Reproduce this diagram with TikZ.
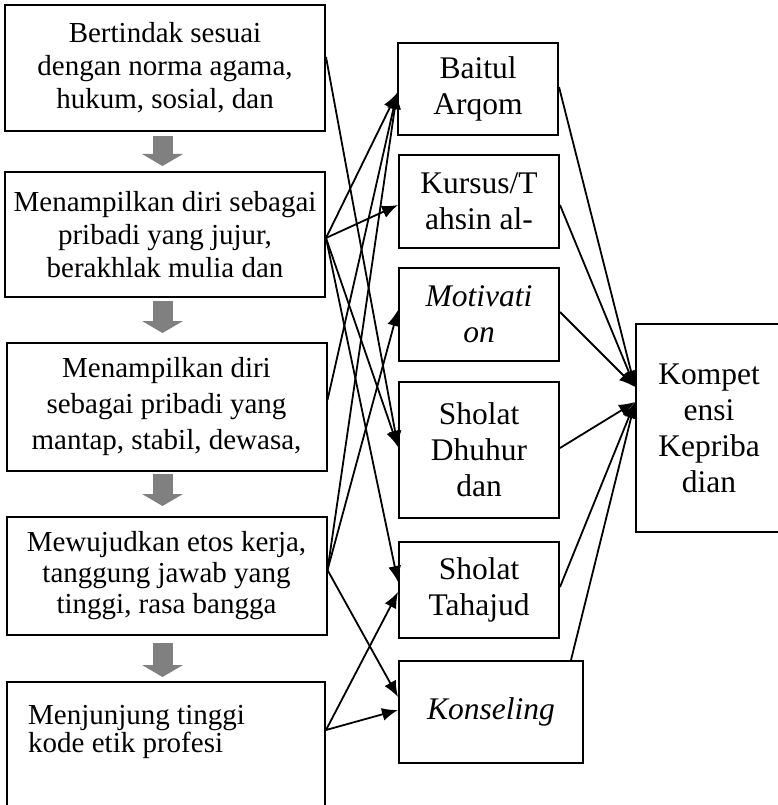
\documentclass[tikz,border=0pt]{standalone}
\usepackage{fontspec}
\setmainfont{Liberation Serif}
\usetikzlibrary{arrows.meta}
\definecolor{arrowgray}{RGB}{128,128,128}
\begin{document}
\begin{tikzpicture}[x=1pt,y=-1pt,
  tbox/.style={draw, line width=2pt, inner sep=0pt, align=center},
  lbox/.style={tbox, minimum width=320pt, font=\fontsize{29}{33}\selectfont},
  mbox/.style={tbox, minimum width=160pt, font=\fontsize{31.5}{36}\selectfont},
  conn/.style={line width=1.8pt, -{Latex[length=16pt,width=13pt]}},
  garrow/.style={line width=20pt, draw=arrowgray, -{Triangle[length=12pt,width=41pt,line width=0pt]}}]
\useasboundingbox (0,0) rectangle (778,805);
% left column
\node[lbox, minimum height=126pt] (b1) at (165,68) {Bertindak sesuai\\dengan norma agama,\\hukum, sosial, dan};
\node[lbox, minimum height=125pt] (b2) at (165,234.5) {Menampilkan diri sebagai\\pribadi yang jujur,\\berakhlak mulia dan};
\node[lbox, minimum height=128pt, font=\fontsize{29}{36}\selectfont] (b3) at (166.5,407) {Menampilkan diri\\sebagai pribadi yang\\mantap, stabil, dewasa,};
\node[lbox, minimum height=118pt, font=\fontsize{29}{31}\selectfont] (b4) at (166.5,576) {Mewujudkan etos kerja,\\tanggung jawab yang\\tinggi, rasa bangga};
\node[lbox, minimum width=318pt, minimum height=148pt] (b5) at (166,756) {};
\node[anchor=north west, inner sep=0pt, align=left, font=\fontsize{29}{28}\selectfont] (b5t) at (28,705) {Menjunjung tinggi\\kode etik profesi};
% middle column
\node[mbox, minimum height=92pt] (m1) at (478,89) {Baitul\\Arqom};
\node[mbox, minimum height=93pt] (m2) at (479,201.5) {Kursus/T\\ahsin al-};
\node[mbox, minimum height=93pt] (m3) at (479,314.5) {\textit{Motivati}\\\textit{on}};
\node[mbox, minimum height=136pt] (m4) at (479,450) {Sholat\\Dhuhur\\dan};
\node[mbox, minimum height=96pt] (m5) at (479,590) {Sholat\\Tahajud};
\node[mbox, minimum width=184pt, minimum height=102pt] (m6) at (491,712) {\textit{Konseling}};
% right
\node[mbox, minimum width=146pt, minimum height=208pt] (k) at (709,428) {Kompet\\ensi\\Kepriba\\dian};
% gray arrows
\draw[garrow] ([xshift=-2.5pt,yshift=-4pt]b1.south) -- ([xshift=-2.5pt,yshift=5pt]b2.north);
\draw[garrow] ([xshift=-2.5pt,yshift=-3pt]b2.south) -- ([xshift=-4pt,yshift=9pt]b3.north);
\draw[garrow] ([xshift=-4pt,yshift=-2pt]b3.south) -- ([xshift=-4pt,yshift=10pt]b4.north);
\draw[garrow] ([xshift=-4pt,yshift=-7pt]b4.south) -- ([xshift=-3.5pt,yshift=4pt]b5.north);
% connectors left -> middle
\draw[conn] ([yshift=11pt]b1.east) -- ([yshift=3pt]m4.west);
\draw[conn] ([yshift=-3.5pt]b2.east) -- ([yshift=-4pt]m1.west);
\draw[conn] ([yshift=-3.5pt]b2.east) -- ([yshift=-3.5pt]m2.west);
\draw[conn] ([yshift=-3.5pt]b2.east) -- ([yshift=3pt]m4.west);
\draw[conn] ([yshift=-3.5pt]b2.east) -- ([yshift=8pt]m5.west);
\draw[conn] ([yshift=7pt]b3.east) -- ([yshift=-4pt]m1.west);
\draw[conn] ([yshift=6pt]b4.east) -- ([yshift=-4pt]m1.west);
\draw[conn] ([yshift=6pt]b4.east) -- ([yshift=4.5pt]m3.west);
\draw[conn] ([yshift=6pt]b4.east) -- ([yshift=15pt]m6.west);
\draw[conn] ([yshift=26pt]b5.east) -- ([yshift=-2pt]m5.west);
\draw[conn] ([yshift=26pt]b5.east) -- ([yshift=2pt]m6.west);
% connectors middle -> right
\draw[conn] ([yshift=2pt]m1.east) -- ([yshift=41pt]k.west);
\draw[conn] ([yshift=-3.5pt]m2.east) -- ([yshift=41pt]k.west);
\draw[conn] ([yshift=2.5pt]m3.east) -- ([yshift=41pt]k.west);
\draw[conn] ([yshift=2pt]m4.east) -- ([yshift=26pt]k.west);
\draw[conn] ([yshift=3pt]m5.east) -- ([yshift=26pt]k.west);
\draw[conn] ([xshift=80pt]m6.north) -- ([yshift=26pt]k.west);
\end{tikzpicture}
\end{document}
